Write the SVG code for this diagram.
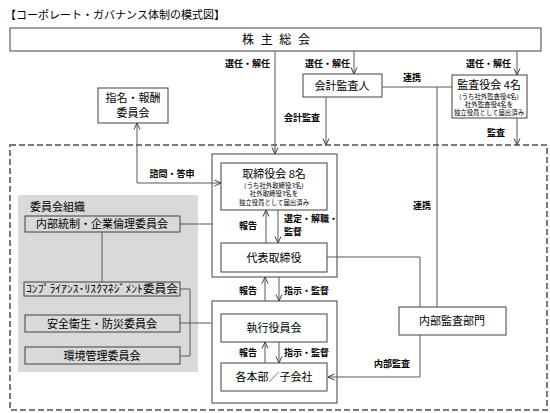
<svg xmlns="http://www.w3.org/2000/svg" width="550" height="413" viewBox="0 0 550 413">
<defs>
<style>
text{font-family:"Noto Sans CJK JP","Noto Sans",sans-serif;fill:#000}
.t{font-size:11px}
.m{font-size:11px;text-anchor:middle}
.s{font-size:6.4px;text-anchor:middle}
.lb{font-size:9px;font-weight:bold}
.lbm{font-size:9px;font-weight:bold;text-anchor:middle}
.lbe{font-size:9px;font-weight:bold;text-anchor:end}
.box{fill:#fff;stroke:#404040;stroke-width:1}
.cbox{fill:#d9d9d9;stroke:#404040;stroke-width:1}
.ln{fill:none;stroke:#595959;stroke-width:1}
</style>
<marker id="ah" viewBox="0 0 8 8" refX="7.5" refY="4" markerWidth="8" markerHeight="8" markerUnits="userSpaceOnUse" orient="auto-start-reverse">
<path d="M1,1 L7.5,4 L1,7" fill="none" stroke="#404040" stroke-width="1"/>
</marker>
</defs>
<rect width="550" height="413" fill="#fff"/>
<text x="5" y="19" class="t" textLength="220" lengthAdjust="spacingAndGlyphs">【コーポレート・ガバナンス体制の模式図】</text>

<rect x="10" y="145" width="537" height="265" fill="none" stroke="#7a7a7a" stroke-width="2" stroke-dasharray="6,3"/>

<g id="shareholders">
<rect x="10" y="28" width="531" height="23" class="box"/>
<text x="242" y="44" font-size="12" textLength="68" lengthAdjust="spacing">株 主 総 会</text>
</g>

<g id="nomination">
<rect x="98" y="88" width="70" height="35" class="box"/>
<text x="133" y="102" class="m" font-size="10.3">指名・報酬</text>
<text x="133" y="117" class="m" font-size="10.3">委員会</text>
</g>

<g id="accountant">
<rect x="303" y="74" width="79" height="23" class="box"/>
<text x="342" y="90" class="m">会計監査人</text>
</g>

<g id="auditors">
<rect x="452" y="75" width="75" height="43" class="box"/>
<text x="489" y="88.5" class="m">監査役会 4名</text>
<text x="489" y="98.5" class="s">（うち社外監査役4名）</text>
<text x="489" y="106.8" class="s">社外監査役4名を</text>
<text x="489" y="115" class="s">独立役員として届出済み</text>
</g>

<g id="board-group">
<rect x="212" y="154" width="125" height="123" class="box"/>
</g>
<g id="board">
<rect x="221" y="163" width="106" height="47" class="box"/>
<text x="274" y="178" class="m" font-size="11.5">取締役会 8名</text>
<text x="274" y="187.5" class="s">（うち社外取締役3名）</text>
<text x="274" y="196" class="s">社外取締役3名を</text>
<text x="274" y="204.5" class="s">独立役員として届出済み</text>
</g>
<g id="ceo">
<rect x="221" y="243" width="106" height="29" class="box"/>
<text x="274" y="262" class="m" font-size="12">代表取締役</text>
</g>

<g id="exec-group">
<rect x="212" y="301" width="125" height="102" class="box"/>
</g>
<g id="exec">
<rect x="221" y="314" width="106" height="28" class="box"/>
<text x="274" y="332" class="m">執行役員会</text>
</g>
<g id="divisions">
<rect x="221" y="363" width="106" height="28" class="box"/>
<text x="274" y="381" class="m">各本部／子会社</text>
</g>

<g id="internal-audit">
<rect x="399" y="307" width="107" height="28" class="box"/>
<text x="452" y="325" class="m">内部監査部門</text>
</g>

<g id="committees">
<rect x="18" y="195" width="180" height="177" fill="#d9d9d9"/>
<text x="30" y="211" class="t" font-size="10.5">委員会組織</text>
</g>
<g id="c-internal">
<rect x="25" y="216" width="155" height="16" class="cbox"/>
<text x="102" y="228" class="m" font-size="10.5">内部統制・企業倫理委員会</text>
</g>
<g id="c-compliance">
<rect x="24" y="282" width="156" height="14" class="cbox"/>
<text x="102" y="293" class="m" font-size="10" textLength="152" lengthAdjust="spacingAndGlyphs">ｺﾝﾌﾟﾗｲｱﾝｽ･ﾘｽｸﾏﾈｼﾞﾒﾝﾄ委員会</text>
</g>
<g id="c-safety">
<rect x="25" y="315" width="155" height="17" class="cbox"/>
<text x="102" y="328" class="m" font-size="10.5">安全衛生・防災委員会</text>
</g>
<g id="c-env">
<rect x="25" y="347" width="155" height="17" class="cbox"/>
<text x="102" y="360" class="m" font-size="10.5">環境管理委員会</text>
</g>

<g id="connectors">
<path class="ln" d="M275,51 V154" marker-end="url(#ah)"/>
<path class="ln" d="M354,51 V74" marker-end="url(#ah)"/>
<path class="ln" d="M517,51 V75" marker-end="url(#ah)"/>
<path class="ln" d="M326,97 V145" marker-end="url(#ah)"/>
<path class="ln" d="M517,118 V145" marker-end="url(#ah)"/>
<path class="ln" d="M382,87 H452"/>
<path class="ln" d="M437,87 V307"/>
<path class="ln" d="M327,257 H420 V307"/>
<path class="ln" d="M420,335 V377 H328" marker-end="url(#ah)"/>
<path class="ln" d="M137,123 V183 H221" marker-start="url(#ah)" marker-end="url(#ah)"/>
<path class="ln" d="M266,243 V210" marker-end="url(#ah)"/>
<path class="ln" d="M278,210 V243" marker-end="url(#ah)"/>
<path class="ln" d="M265,301 V277" marker-end="url(#ah)"/>
<path class="ln" d="M279,277 V301" marker-end="url(#ah)"/>
<path class="ln" d="M265,363 V342" marker-end="url(#ah)"/>
<path class="ln" d="M279,342 V363" marker-end="url(#ah)"/>
<path class="ln" d="M180,224 H212"/>
<path class="ln" d="M102,232 V282"/>
<path class="ln" d="M180,289 H190 V356 H180"/>
<path class="ln" d="M180,323 H212"/>
<text x="270" y="67" class="lbe">選任・解任</text>
<text x="350" y="67" class="lbe">選任・解任</text>
<text x="511" y="67" class="lbe">選任・解任</text>
<text x="412" y="81" class="lbm">連携</text>
<text x="302" y="121" class="lbm">会計監査</text>
<text x="496" y="136" class="lbm">監査</text>
<text x="172" y="177" class="lbm">諮問・答申</text>
<text x="422" y="209" class="lbm">連携</text>
<text x="248" y="229" class="lbm">報告</text>
<text x="284" y="222" class="lb">選定・解職・</text>
<text x="284" y="235" class="lb">監督</text>
<text x="248" y="294" class="lbm">報告</text>
<text x="284" y="294" class="lb">指示・監督</text>
<text x="248" y="356" class="lbm">報告</text>
<text x="284" y="356" class="lb">指示・監督</text>
<text x="392" y="367" class="lbm">内部監査</text>
</g>
</svg>
